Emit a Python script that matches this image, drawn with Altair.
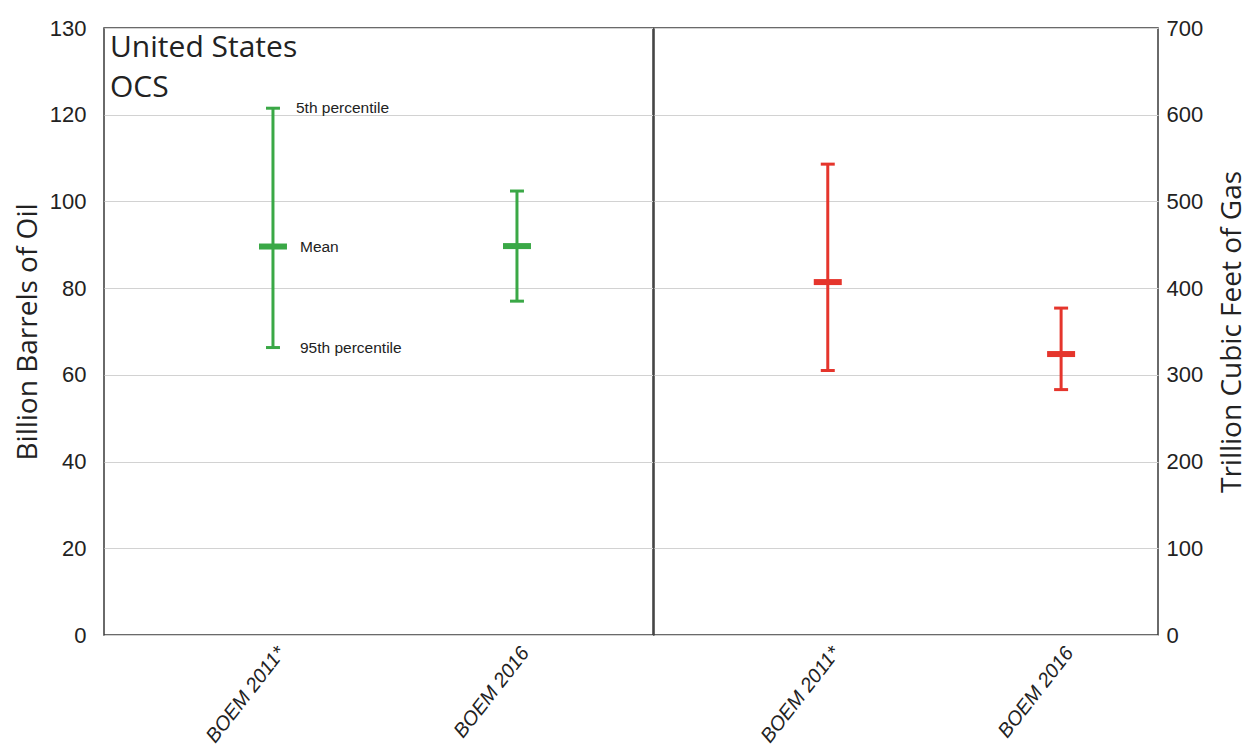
import altair as alt
import pandas as pd

# ---- data ----
sources = ["BOEM 2011*", "BOEM 2016"]
oil_p95 = [66.3, 77.0]
oil_mean = [89.6, 89.7]
oil_p5 = [121.5, 102.4]
gas_p95 = [305, 283]
gas_mean = [407, 324]
gas_p5 = [543, 377]

oil_ticks = [0, 20, 40, 60, 80, 100, 120, 140]
oil_tick_labels = ["0", "20", "40", "60", "80", "100", "120", "130"]
gas_ticks = [0, 100, 200, 300, 400, 500, 600, 700]
region_lines = ["United States", "OCS"]
pct_labels = ["5th percentile", "Mean", "95th percentile"]

GREEN = "#3aa846"
RED = "#e5352c"
NARROW = "Liberation Sans"
SANS = "Open Sans"
INK = "#222222"


def tick_expr(values, labels):
    expr = "datum.label"
    for v, l in zip(values, labels):
        expr = f"datum.value == {v} ? '{l}' : ({expr})"
    return expr


def panel(low, mean, high, color, title, ticks, tick_labels, orient, dmax,
          width, pad, align, label_pad, title_pad, title_baseline):
    df = pd.DataFrame({"source": sources, "low": low, "mean": mean, "high": high})
    base = alt.Chart(df)
    x = alt.X(
        "source:N",
        sort=sources,
        scale=alt.Scale(type="point", padding=pad, align=align),
        axis=alt.Axis(
            title=None, labelAngle=-52, labelFont=NARROW, labelFontSize=20,
            labelFontStyle="italic", labelPadding=14, labelOffset=8,
            ticks=False, domain=False, labelAlign="right",
            labelBaseline="middle", labelColor=INK,
        ),
    )
    yscale = alt.Scale(domain=[0, dmax], nice=False, zero=True)
    axis = alt.Axis(
        orient=orient, values=ticks, labelExpr=tick_expr(ticks, tick_labels),
        grid=True, gridColor="#d2d2d2", gridWidth=1, ticks=False, domain=False,
        labelFont=NARROW, labelFontSize=22, labelColor=INK, labelPadding=label_pad,
        title=title, titleFont=SANS, titleFontSize=28, titleFontWeight="normal",
        titleColor=INK, titlePadding=title_pad, titleAngle=270,
        titleBaseline=title_baseline,
    )
    rule = base.mark_rule(color=color, strokeWidth=3).encode(
        x=x, y=alt.Y("low:Q", scale=yscale, axis=axis, title=title),
        y2="high:Q",
    )
    cap_lo = base.mark_tick(color=color, size=14, thickness=3, opacity=1).encode(
        x=x, y=alt.Y("low:Q", title=title))
    cap_hi = base.mark_tick(color=color, size=14, thickness=3, opacity=1).encode(
        x=x, y=alt.Y("high:Q", title=title))
    mid = base.mark_tick(color=color, size=28, thickness=6, opacity=1).encode(
        x=x, y=alt.Y("mean:Q", title=title))
    return alt.layer(rule, cap_lo, cap_hi, mid).properties(width=width, height=607)


oil = panel(oil_p95, oil_mean, oil_p5, GREEN, "Billion Barrels of Oil",
            oil_ticks, oil_tick_labels, "left", 140, 549, 0.625, 0.554,
            18, 7, "bottom")
gas = panel(gas_p95, gas_mean, gas_p5, RED, "Trillion Cubic Feet of Gas",
            gas_ticks, [str(v) for v in gas_ticks], "right", 700, 504, 0.58, 0.642,
            8, 16, "top")

# annotations in the oil panel
region_df = pd.DataFrame({"txt": ["\n".join(region_lines)]})
region_txt = alt.Chart(region_df).mark_text(
    align="left", baseline="top", font=SANS, fontSize=30, lineHeight=40,
    color=INK, lineBreak="\n",
).encode(x=alt.value(6), y=alt.value(5), text="txt:N")

top_df = pd.DataFrame({"source": [sources[0]], "v": [oil_p5[0]], "t": [pct_labels[0]]})
rest_df = pd.DataFrame({"source": [sources[0], sources[0]],
                        "v": [oil_mean[0], oil_p95[0]], "t": pct_labels[1:]})
ann_x = alt.X("source:N", sort=sources)
ann_top = alt.Chart(top_df).mark_text(
    align="left", baseline="middle", font=NARROW, fontSize=15.5, color=INK, dx=23,
).encode(x=ann_x, y=alt.Y("v:Q", title="Billion Barrels of Oil"), text="t:N")
ann_rest = alt.Chart(rest_df).mark_text(
    align="left", baseline="middle", font=NARROW, fontSize=15.5, color=INK, dx=27,
).encode(x=ann_x, y=alt.Y("v:Q", title="Billion Barrels of Oil"), text="t:N")

oil_full = alt.layer(oil, region_txt, ann_top, ann_rest)

chart = alt.hconcat(oil_full, gas, spacing=-2).configure(
    padding={"left": 5, "top": 8, "right": 0, "bottom": 0}, background="white"
).configure_view(stroke="#3a3a3a", strokeWidth=1.5)

chart.save("out.html", embed_options={"renderer": "svg", "actions": False})
